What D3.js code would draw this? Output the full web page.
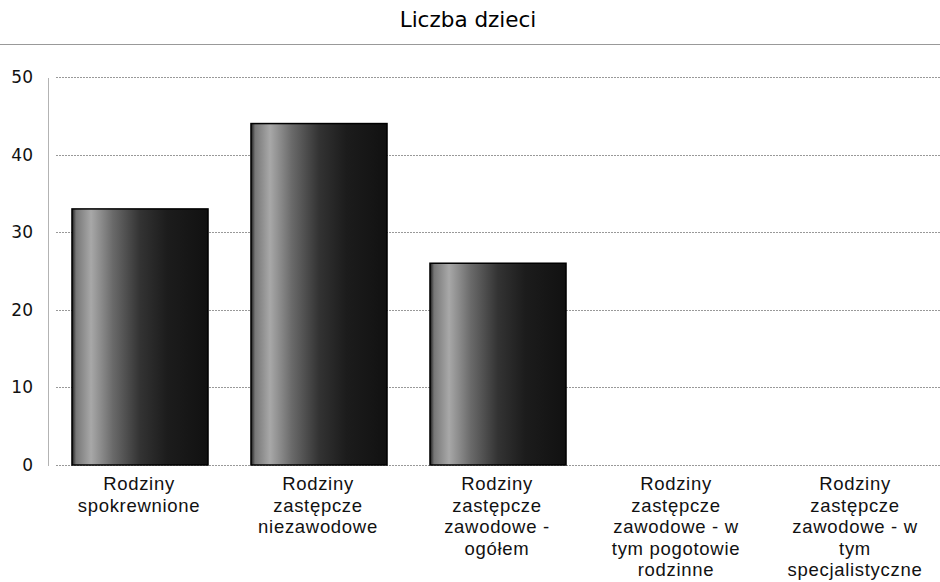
<!DOCTYPE html>
<html>
<head>
<meta charset="utf-8">
<script src="https://cdn.jsdelivr.net/npm/d3@7"></script>
<style>
  body { margin: 0; background: #fff; }
  svg { display: block; }
</style>
</head>
<body>
<div id="chart"></div>
<script>
const categories = [
  ["Rodziny", "spokrewnione"],
  ["Rodziny", "zastępcze", "niezawodowe"],
  ["Rodziny", "zastępcze", "zawodowe -", "ogółem"],
  ["Rodziny", "zastępcze", "zawodowe - w", "tym pogotowie", "rodzinne"],
  ["Rodziny", "zastępcze", "zawodowe - w", "tym", "specjalistyczne"]
];
const values = [33, 44, 26, 0, 0];
const yTicks = [0, 10, 20, 30, 40, 50];
const title = "Liczba dzieci";

const width = 940;
const height = 582;
const margin = { top: 77, right: 0, bottom: 117, left: 48 };

const svg = d3.select("#chart")
  .append("svg")
  .attr("width", width)
  .attr("height", height);

const grad = svg.append("defs").append("linearGradient")
  .attr("id", "barFill")
  .attr("x1", "0%").attr("x2", "100%")
  .attr("y1", "0%").attr("y2", "0%");
[["0%", "#1a1a1a"], ["3%", "#777"], ["14%", "#a8a8a8"], ["30%", "#6a6a6a"],
 ["50%", "#333"], ["70%", "#1c1c1c"], ["100%", "#111"]]
  .forEach(([o, c]) => grad.append("stop").attr("offset", o).attr("stop-color", c));

const x = d3.scaleBand()
  .domain(d3.range(categories.length))
  .range([50.5, 945.5])
  .paddingInner(0.24)
  .paddingOuter(0.12);

const y = d3.scaleLinear()
  .domain([0, 50])
  .range([height - 117, margin.top]);

// title
svg.append("text")
  .attr("x", 468)
  .attr("y", 27)
  .attr("text-anchor", "middle")
  .style("font-family", "DejaVu Sans, sans-serif")
  .style("font-size", "21.5px")
  .text(title);

svg.append("line")
  .attr("x1", 0).attr("x2", width)
  .attr("y1", 44.5).attr("y2", 44.5)
  .attr("stroke", "#999")
  .attr("stroke-width", 1);

// grid
svg.append("g")
  .selectAll("line")
  .data(yTicks)
  .join("line")
  .attr("x1", margin.left + 8)
  .attr("x2", width)
  .attr("y1", (d) => Math.round(y(d)) + 0.5)
  .attr("y2", (d) => Math.round(y(d)) + 0.5)
  .attr("stroke", "#999")
  .attr("stroke-dasharray", "2,1");

// y axis
const yAxis = svg.append("g")
  .attr("transform", `translate(${margin.left},0)`)
  .call(d3.axisLeft(y).tickValues(yTicks).tickSize(0).tickPadding(15));
yAxis.select(".domain")
  .attr("stroke", "#666")
  .attr("stroke-dasharray", "1,1");
yAxis.selectAll("text")
  .style("font-family", "DejaVu Sans, sans-serif")
  .style("font-size", "17px")
  .attr("fill", "#111");

// bars
svg.append("g")
  .selectAll("rect")
  .data(values)
  .join("rect")
  .attr("x", (d, i) => x(i))
  .attr("y", (d) => y(d))
  .attr("width", x.bandwidth())
  .attr("height", (d) => y(0) - y(d))
  .attr("fill", "url(#barFill)")
  .attr("stroke", (d) => d > 0 ? "#000" : "none")
  .attr("stroke-width", 1.5);

// category labels
const labels = svg.append("g")
  .selectAll("text")
  .data(categories)
  .join("text")
  .attr("x", (d, i) => x(i) + x.bandwidth() / 2 - 1)
  .attr("y", 490)
  .attr("text-anchor", "middle")
  .style("font-family", "Liberation Sans, Arial, sans-serif")
  .style("font-size", "18.5px")
  .style("letter-spacing", "0.7px")
  .attr("fill", "#111");

labels.selectAll("tspan")
  .data((d) => d)
  .join("tspan")
  .attr("x", function () { return d3.select(this.parentNode).attr("x"); })
  .attr("dy", (d, i) => i === 0 ? 0 : 21.5)
  .text((d) => d);
</script>
</body>
</html>
